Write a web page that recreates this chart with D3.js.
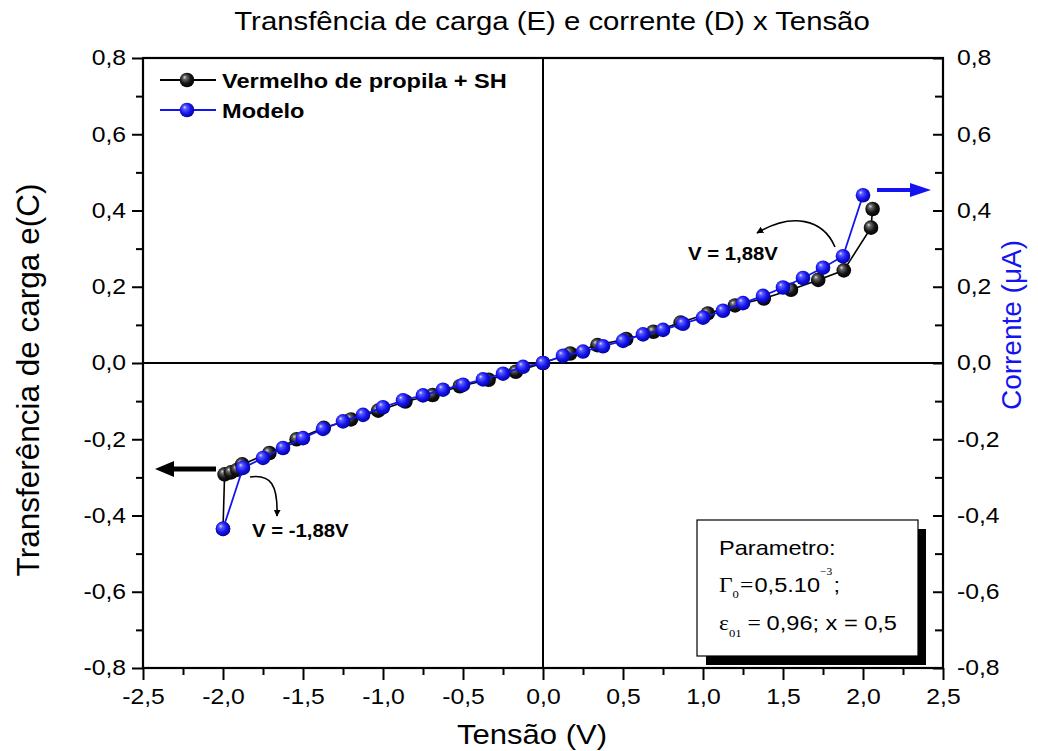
<!DOCTYPE html>
<html>
<head>
<meta charset="utf-8">
<script src="https://cdn.jsdelivr.net/npm/d3@7"></script>
<style>
  body { margin: 0; background: #ffffff; }
  text { font-family: "Liberation Sans", Arial, sans-serif; }
</style>
</head>
<body>
<svg id="chart" width="1038" height="751"></svg>
<script>
// Model curve (blue): voltage (V) and charge transfer
const modelV = [-2.0, -1.875, -1.75, -1.625, -1.5, -1.375, -1.25, -1.125, -1.0, -0.875, -0.75, -0.625, -0.5, -0.375, -0.25, -0.125,
                0.0, 0.125, 0.25, 0.375, 0.5, 0.625, 0.75, 0.875, 1.0, 1.125, 1.25, 1.375, 1.5, 1.625, 1.75, 1.875, 2.0];
const modelQ = [-0.435, -0.275, -0.249, -0.223, -0.197, -0.173, -0.153, -0.136, -0.116, -0.098, -0.085, -0.070, -0.057, -0.043, -0.028, -0.010,
                0.0, 0.019, 0.030, 0.044, 0.058, 0.075, 0.087, 0.103, 0.119, 0.137, 0.157, 0.176, 0.198, 0.223, 0.250, 0.280, 0.440];

// Measured curve (black): Vermelho de propila + SH
const expV = [-2.0, -1.99, -1.95, -1.91, -1.88, -1.71, -1.54, -1.37, -1.20, -1.03, -0.86, -0.69, -0.52, -0.34, -0.17,
              0.0, 0.17, 0.34, 0.52, 0.69, 0.86, 1.03, 1.20, 1.38, 1.55, 1.72, 1.88, 2.05, 2.06];
const expQ = [-0.435, -0.292, -0.287, -0.280, -0.266, -0.236, -0.200, -0.170, -0.148, -0.125, -0.101, -0.084, -0.061, -0.044, -0.023,
              0.0, 0.025, 0.047, 0.063, 0.082, 0.106, 0.130, 0.151, 0.169, 0.192, 0.218, 0.243, 0.355, 0.404];

const xMajor = [-2.5, -2.0, -1.5, -1.0, -0.5, 0.0, 0.5, 1.0, 1.5, 2.0, 2.5];
const xMinor = [-2.25, -1.75, -1.25, -0.75, -0.25, 0.25, 0.75, 1.25, 1.75, 2.25];
const yMajor = [-0.8, -0.6, -0.4, -0.2, 0.0, 0.2, 0.4, 0.6, 0.8];
const yMinor = [-0.7, -0.5, -0.3, -0.1, 0.1, 0.3, 0.5, 0.7];

const titleText = "Transfência de carga (E) e corrente (D) x Tensão";
const xTitle = "Tensão (V)";
const yTitleLeft = "Transferência de carga e(C)";
const yTitleRight = "Corrente (\u03BCA)";
const legendLabels = ["Vermelho de propila + SH", "Modelo"];
const annotRight = "V = 1,88V";
const annotLeft = "V = -1,88V";

const BLUE = "#1414f0";
const SX = 1.15;   // horizontal text stretch
const R = 7.3;     // marker radius

const svg = d3.select("#chart");
const x = d3.scaleLinear().domain([-2.5, 2.5]).range([143, 943]);
const y = d3.scaleLinear().domain([-0.8, 0.8]).range([668, 58]);

const loc = d3.formatLocale({ decimal: ",", thousands: ".", grouping: [3], currency: ["", ""], minus: "-" });
const fmt = loc.format(".1f");

// sphere shading
const defs = svg.append("defs");
function sphere(id, stops) {
  const g = defs.append("radialGradient").attr("id", id)
    .attr("cx", "0.45").attr("cy", "0.45").attr("r", "0.6").attr("fx", "0.33").attr("fy", "0.3");
  stops.forEach(([o, c]) => g.append("stop").attr("offset", o).attr("stop-color", c));
}
sphere("gBlue", [[0, "#dcdcff"], [0.22, "#5a5aff"], [0.6, "#1515ee"], [1, "#000090"]]);
sphere("gBlack", [[0, "#e0e0e0"], [0.22, "#666"], [0.6, "#151515"], [1, "#000"]]);

function label(g, px, py, str, size, opts = {}) {
  const sx = opts.sx || SX;
  return g.append("text")
    .attr("transform", `translate(${px},${py}) scale(${sx},1)` + (opts.rotate ? ` rotate(${opts.rotate})` : ""))
    .attr("font-size", size)
    .attr("text-anchor", opts.anchor || "start")
    .attr("fill", opts.fill || "#000")
    .attr("font-weight", opts.weight || "normal")
    .text(str);
}

// zero lines
svg.append("line").attr("x1", x(-2.5)).attr("x2", x(2.5)).attr("y1", y(0)).attr("y2", y(0))
  .attr("stroke", "#000").attr("stroke-width", 2);
svg.append("line").attr("x1", x(0)).attr("x2", x(0)).attr("y1", y(0.8)).attr("y2", y(-0.8))
  .attr("stroke", "#000").attr("stroke-width", 2);

// axes
function styleAxis(g) {
  g.select(".domain").remove();
  g.selectAll(".tick line").attr("stroke", "#000").attr("stroke-width", 2);
  g.selectAll(".tick text").attr("font-size", 21.5).attr("fill", "#000")
    .attr("font-family", "'Liberation Sans', Arial, sans-serif");
}
const axB = svg.append("g").attr("transform", `translate(0,${y(-0.8)})`)
  .call(d3.axisBottom(x).tickValues(xMajor).tickFormat(fmt).tickSize(12).tickPadding(9));
styleAxis(axB);
const axBm = svg.append("g").attr("transform", `translate(0,${y(-0.8)})`)
  .call(d3.axisBottom(x).tickValues(xMinor).tickFormat("").tickSize(7));
styleAxis(axBm);

const axL = svg.append("g").attr("transform", `translate(${x(-2.5)},0)`)
  .call(d3.axisLeft(y).tickValues(yMajor).tickFormat(fmt).tickSize(11).tickPadding(6));
styleAxis(axL);
const axLm = svg.append("g").attr("transform", `translate(${x(-2.5)},0)`)
  .call(d3.axisLeft(y).tickValues(yMinor).tickFormat("").tickSize(7));
styleAxis(axLm);

const axR = svg.append("g").attr("transform", `translate(${x(2.5)},0)`)
  .call(d3.axisRight(y).tickValues(yMajor).tickFormat(fmt).tickSize(-10).tickPadding(14));
styleAxis(axR);
const axRm = svg.append("g").attr("transform", `translate(${x(2.5)},0)`)
  .call(d3.axisRight(y).tickValues(yMinor).tickFormat("").tickSize(-8));
styleAxis(axRm);

// stretch tick labels horizontally, keeping their anchor point in place
[axB, axL, axR].forEach(ax => ax.selectAll(".tick text").each(function () {
  const t = d3.select(this);
  const xx = +t.attr("x") || 0;
  t.attr("x", xx / SX).attr("transform", `scale(${SX},1)`);
}));

// frame
svg.append("rect").attr("x", x(-2.5)).attr("y", y(0.8))
  .attr("width", x(2.5) - x(-2.5)).attr("height", y(-0.8) - y(0.8))
  .attr("fill", "none").attr("stroke", "#000").attr("stroke-width", 2.2);

// series lines and markers
const lineGen = d3.line().x(d => x(d[0])).y(d => y(d[1]));
const expPts = expV.map((v, i) => [v, expQ[i]]);
const modPts = modelV.map((v, i) => [v, modelQ[i]]);

svg.append("path").datum(expPts).attr("d", lineGen).attr("fill", "none")
  .attr("stroke", "#000").attr("stroke-width", 1.6);
svg.append("g").selectAll("circle").data(expPts).join("circle")
  .attr("cx", d => x(d[0])).attr("cy", d => y(d[1])).attr("r", R).attr("fill", "url(#gBlack)");

svg.append("path").datum(modPts).attr("d", lineGen).attr("fill", "none")
  .attr("stroke", BLUE).attr("stroke-width", 1.8);
svg.append("g").selectAll("circle").data(modPts).join("circle")
  .attr("cx", d => x(d[0])).attr("cy", d => y(d[1])).attr("r", R).attr("fill", "url(#gBlue)");

// legend
const leg = svg.append("g");
[["#000", "url(#gBlack)"], [BLUE, "url(#gBlue)"]].forEach(([stroke, fill], i) => {
  const ly = 80 + i * 30;
  leg.append("line").attr("x1", 160).attr("x2", 216).attr("y1", ly).attr("y2", ly)
    .attr("stroke", stroke).attr("stroke-width", 1.8);
  leg.append("circle").attr("cx", 187).attr("cy", ly).attr("r", R).attr("fill", fill);
  label(leg, 222, ly + 7.5, legendLabels[i], 20.5, { weight: "bold" });
});

// titles
label(svg, 552, 30, titleText, 25.5, { anchor: "middle" });
label(svg, 532, 744, xTitle, 27, { anchor: "middle" });
label(svg, 39, 380, yTitleLeft, 31.5, { anchor: "middle", rotate: -90, sx: 1 });
label(svg, 1021, 325, yTitleRight, 28, { anchor: "middle", rotate: -90, sx: 1, fill: BLUE });

// annotations
const ann = svg.append("g");
defs.append("marker").attr("id", "headSmall").attr("viewBox", "0 0 10 10").attr("refX", 9).attr("refY", 5)
  .attr("markerWidth", 7).attr("markerHeight", 7).attr("markerUnits", "userSpaceOnUse").attr("orient", "auto")
  .append("path").attr("d", "M0,0 L10,5 L0,10 Z").attr("fill", "#000");

ann.append("path").attr("d", "M835,247 C823,219 792,212 757,233")
  .attr("fill", "none").attr("stroke", "#000").attr("stroke-width", 1.6).attr("marker-end", "url(#headSmall)");
label(ann, 688, 260, annotRight, 18.5, { weight: "bold", sx: 1.1 });

ann.append("path").attr("d", "M250,477 C271,474 278,485 277,516")
  .attr("fill", "none").attr("stroke", "#000").attr("stroke-width", 1.6).attr("marker-end", "url(#headSmall)");
label(ann, 252, 537, annotLeft, 18.5, { weight: "bold", sx: 1.1 });

// axis pointers
ann.append("line").attr("x1", 216).attr("x2", 172).attr("y1", 469).attr("y2", 469)
  .attr("stroke", "#000").attr("stroke-width", 5);
ann.append("path").attr("d", "M155,469 L174,461 L174,477 Z").attr("fill", "#000");
ann.append("line").attr("x1", 877).attr("x2", 912).attr("y1", 190).attr("y2", 190)
  .attr("stroke", BLUE).attr("stroke-width", 4);
ann.append("path").attr("d", "M931,190 L910,183 L910,197 Z").attr("fill", BLUE);

// parameter box
const pb = svg.append("g");
pb.append("rect").attr("x", 706).attr("y", 529).attr("width", 220).attr("height", 136).attr("fill", "#000");
pb.append("rect").attr("x", 697).attr("y", 520).attr("width", 221).attr("height", 136)
  .attr("fill", "#fff").attr("stroke", "#000").attr("stroke-width", 1.2);
label(pb, 719, 555, "Parametro:", 20.5);

const serif = "'Liberation Serif', serif";
const l2 = pb.append("text").attr("transform", `translate(719,592) scale(${SX},1)`).attr("font-size", 20.5).attr("fill", "#000");
l2.append("tspan").attr("font-family", serif).text("\u0393");
l2.append("tspan").attr("font-family", serif).attr("font-size", 11).attr("dy", 6).text("0");
l2.append("tspan").attr("font-family", serif).attr("dy", -6).attr("dx", 1).text("=");
l2.append("tspan").attr("dx", 1).text("0,5.10");
l2.append("tspan").attr("font-family", serif).attr("font-size", 10).attr("dy", -17).text("\u22123");
l2.append("tspan").attr("dy", 17).attr("dx", 1).text(";");

const l3 = pb.append("text").attr("transform", `translate(719,630) scale(${SX},1)`).attr("font-size", 20.5).attr("fill", "#000");
l3.append("tspan").attr("font-family", serif).text("\u03B5");
l3.append("tspan").attr("font-family", serif).attr("font-size", 11).attr("dy", 7).text("01");
l3.append("tspan").attr("font-family", serif).attr("dy", -7).text(" = ");
l3.append("tspan").text("0,96; x = 0,5");
</script>
</body>
</html>
